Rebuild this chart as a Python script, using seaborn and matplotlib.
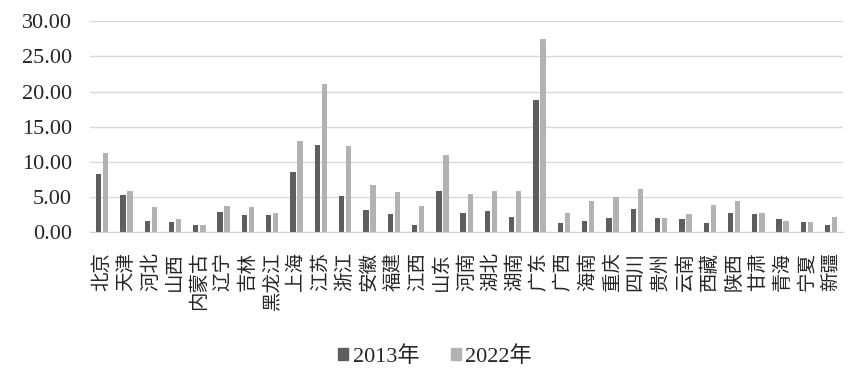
import pandas as pd
import matplotlib
matplotlib.use("Agg")
import matplotlib.pyplot as plt
import seaborn as sns

provinces = ["北京", "天津", "河北", "山西", "内蒙古", "辽宁", "吉林", "黑龙江", "上海", "江苏",
             "浙江", "安徽", "福建", "江西", "山东", "河南", "湖北", "湖南", "广东", "广西",
             "海南", "重庆", "四川", "贵州", "云南", "西藏", "陕西", "甘肃", "青海", "宁夏", "新疆"]

vals_2013 = [8.28, 5.26, 1.61, 1.47, 0.99, 2.88, 2.41, 2.41, 8.52, 12.36,
             5.11, 3.13, 2.56, 0.99, 5.82, 2.70, 2.98, 2.13, 18.75, 1.28,
             1.56, 1.99, 3.27, 1.99, 1.85, 1.28, 2.70, 2.56, 1.85, 1.42, 0.99]
vals_2022 = [11.27, 5.82, 3.55, 1.85, 0.99, 3.74, 3.55, 2.75, 12.93, 21.02,
             12.22, 6.68, 5.68, 3.69, 10.94, 5.40, 5.82, 5.82, 27.41, 2.70,
             4.40, 4.97, 6.11, 1.99, 2.56, 3.84, 4.40, 2.70, 1.56, 1.42, 2.13]
series_names = ["2013年", "2022年"]
colors = ["#5e5e5e", "#b2b2b2"]

df = pd.DataFrame({
    "省份": provinces * 2,
    "值": vals_2013 + vals_2022,
    "年份": [series_names[0]] * len(provinces) + [series_names[1]] * len(provinces),
})

sns.set_style("white")
plt.rcParams["font.family"] = ["Liberation Serif", "Noto Sans CJK SC", "DejaVu Sans"]

fig, ax = plt.subplots(figsize=(8.65, 3.85), dpi=100)
fig.subplots_adjust(left=0.104, right=0.975, top=0.945, bottom=0.397)

sns.barplot(data=df, x="省份", y="值", hue="年份", palette=colors,
            width=0.58, gap=0.24, ax=ax, errorbar=None, saturation=1,
            legend=False, linewidth=0)

ax.set_ylim(0, 30)
ax.set_yticks(range(0, 31, 5))
ax.set_yticklabels([f"{v:.2f}" for v in range(0, 31, 5)], fontsize=16)
ax.yaxis.grid(True, color="#d9d9d9", linewidth=1)
ax.set_axisbelow(True)
ax.set_xlim(-0.5, len(provinces) - 0.5)
ax.tick_params(axis="x", labelrotation=90, labelsize=14, length=0, pad=14)
ax.tick_params(axis="y", length=0, pad=13)
ax.set_xlabel("")
ax.set_ylabel("")
for s in ["top", "right", "left"]:
    ax.spines[s].set_visible(False)
ax.spines["bottom"].set_color("#d0d0d0")

handles = [plt.Rectangle((0, 0), 1, 1, color=c) for c in colors]
fig.legend(handles, series_names, loc="center", bbox_to_anchor=(0.503, 0.075), ncol=2,
           frameon=False, fontsize=16, handlelength=0.45, handleheight=0.45,
           handletextpad=0.2, columnspacing=1.4)

fig.savefig("out.png", dpi=100)
